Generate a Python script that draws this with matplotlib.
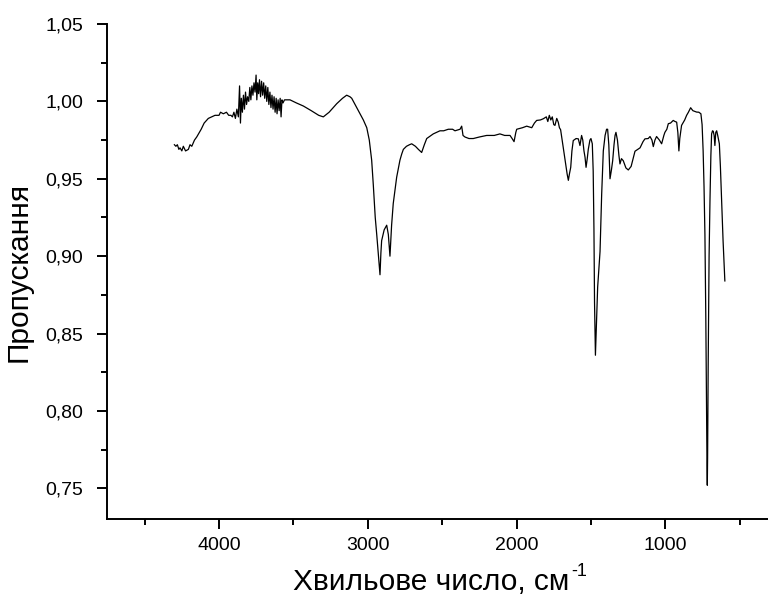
import matplotlib
matplotlib.use("Agg")
import matplotlib.pyplot as plt
from matplotlib.ticker import FixedLocator, FuncFormatter, MultipleLocator

plt.rcParams['font.family'] = ['Liberation Sans', 'DejaVu Sans']

# ---- data ----
wavenumber = [
    4300, 4290, 4280, 4270, 4262, 4250, 4240, 4225, 4206, 4195, 4183, 4165, 4150,
    4120, 4100, 4072, 4050, 4027, 4000, 3990, 3971, 3950, 3935,
    3920, 3910, 3900, 3890, 3880, 3870, 3862, 3856, 3850, 3843, 3836, 3829, 3822,
    3815, 3808, 3800, 3793, 3786, 3779, 3772, 3765, 3758, 3751, 3746, 3740, 3734,
    3728, 3721, 3714, 3707, 3700, 3693, 3686, 3679, 3672, 3665, 3658, 3651, 3644,
    3637, 3630, 3623, 3616, 3610, 3603, 3596, 3589, 3583, 3577, 3570, 3560,
    3523, 3480, 3433, 3380, 3330, 3299, 3260, 3209, 3170, 3142, 3120, 3108, 3080,
    3052, 3030, 3007, 2990, 2974, 2963, 2950, 2940, 2930, 2918, 2912, 2907, 2890,
    2873, 2862, 2851, 2840, 2829, 2806, 2784, 2772, 2761, 2740, 2720, 2705, 2680,
    2660, 2638, 2620, 2604, 2560, 2515, 2490, 2459, 2430, 2414, 2380, 2369, 2360,
    2347, 2320, 2291, 2250, 2201, 2150, 2112, 2080, 2044, 2030, 2017, 2005, 1999,
    1960, 1932, 1898, 1880, 1865, 1840, 1820, 1800, 1790, 1780, 1770, 1760, 1750,
    1742, 1730, 1720, 1712, 1704, 1695, 1686, 1670, 1660, 1652, 1645, 1636, 1628,
    1619, 1600, 1585, 1574, 1563, 1555, 1547, 1540, 1533, 1525, 1518, 1507, 1500,
    1491, 1485, 1480, 1476, 1470, 1465, 1455, 1439, 1428, 1417, 1405, 1395, 1388,
    1380, 1372, 1362, 1354, 1345, 1338, 1332, 1322, 1312, 1305, 1295, 1283, 1265,
    1249, 1230, 1204, 1170, 1150, 1137, 1115, 1103, 1090, 1081, 1070, 1059, 1040,
    1025, 1010, 1003, 990, 980, 965, 947, 935, 924, 916, 909, 903, 891, 870, 857,
    845, 830, 815, 800, 790, 775, 761, 753, 746, 740, 734, 728, 724, 720, 718, 716,
    712, 706, 700, 694, 689, 683, 678, 672, 667, 661, 655, 648, 637, 630, 622, 612,
    600,
]
transmittance = [
    0.972, 0.971, 0.972, 0.969, 0.970, 0.968, 0.971, 0.968, 0.969, 0.972, 0.971, 0.975, 0.977,
    0.982, 0.986, 0.989, 0.990, 0.991, 0.991, 0.993, 0.992, 0.993, 0.991,
    0.991, 0.990, 0.993, 0.989, 0.995, 0.990, 1.010, 0.986, 1.002, 0.993, 1.004, 0.995, 1.006,
    0.998, 1.003, 1.000, 1.009, 1.001, 1.010, 1.004, 1.012, 1.006, 1.017, 1.001, 1.012, 1.005,
    1.014, 1.003, 1.013, 1.004, 1.012, 1.002, 1.010, 1.000, 1.009, 0.998, 1.006, 0.996, 1.004,
    0.995, 1.003, 0.993, 1.002, 0.992, 1.001, 0.994, 1.002, 0.990, 1.001, 0.999, 1.001,
    1.001, 0.999, 0.997, 0.994, 0.991, 0.990, 0.993, 0.9985, 1.002, 1.004, 1.003, 1.002, 0.997,
    0.992, 0.988, 0.983, 0.975, 0.962, 0.946, 0.925, 0.914, 0.902, 0.888, 0.902, 0.910, 0.917,
    0.920, 0.914, 0.900, 0.920, 0.934, 0.951, 0.962, 0.966, 0.969, 0.971, 0.972, 0.9726, 0.971,
    0.969, 0.967, 0.972, 0.976, 0.979, 0.981, 0.981, 0.982, 0.982, 0.981, 0.982, 0.984, 0.978,
    0.977, 0.976, 0.976, 0.977, 0.978, 0.978, 0.979, 0.978, 0.978, 0.976, 0.974, 0.980, 0.982,
    0.983, 0.984, 0.983, 0.986, 0.9877, 0.988, 0.9888, 0.990, 0.987, 0.991, 0.988, 0.990, 0.985,
    0.9845, 0.989, 0.9866, 0.983, 0.9817, 0.976, 0.970, 0.9596, 0.953, 0.949, 0.953, 0.9574, 0.968,
    0.9747, 0.976, 0.9758, 0.9715, 0.978, 0.975, 0.968, 0.964, 0.9574, 0.963, 0.969, 0.975, 0.976,
    0.9726, 0.955, 0.918, 0.870, 0.836, 0.850, 0.880, 0.903, 0.940, 0.968, 0.978, 0.982, 0.982,
    0.972, 0.950, 0.956, 0.9617, 0.972, 0.978, 0.980, 0.975, 0.965, 0.9596, 0.963, 0.9617, 0.957,
    0.9557, 0.958, 0.9678, 0.970, 0.974, 0.9758, 0.976, 0.9773, 0.975, 0.9708, 0.975, 0.9773, 0.975,
    0.9726, 0.978, 0.980, 0.982, 0.9856, 0.986, 0.9877, 0.987, 0.9866, 0.980, 0.968, 0.976, 0.9845, 0.988, 0.991,
    0.993, 0.9959, 0.994, 0.9935, 0.9931, 0.993, 0.992, 0.985, 0.968, 0.945, 0.914, 0.860, 0.810, 0.765, 0.752, 0.770,
    0.830, 0.900, 0.936, 0.965, 0.979, 0.981, 0.9807, 0.978, 0.9715, 0.980, 0.981, 0.978, 0.9726, 0.958, 0.936, 0.910,
    0.884,
]
x_ticks = [4000, 3000, 2000, 1000]
y_ticks = [0.75, 0.80, 0.85, 0.90, 0.95, 1.00, 1.05]
x_label = 'Хвильове число, см'
x_label_sup = '-1'
y_label = 'Пропускання'

W, H = 768, 607
fig = plt.figure(figsize=(W / 100, H / 100), dpi=100)
left_px, bottom_px, top_px = 107.3, 519.3, 24.0
ax = fig.add_axes([left_px / W, (H - bottom_px) / H, 1 - left_px / W, (bottom_px - top_px) / H])

ax.plot(wavenumber, transmittance, color='black', lw=0.9)

ax.set_xlim(4751, 310)
ax.set_ylim(0.73, 1.05)

ax.spines['top'].set_visible(False)
ax.spines['right'].set_visible(False)
for s in ('left', 'bottom'):
    ax.spines[s].set_linewidth(1.4)

ax.xaxis.set_major_locator(FixedLocator(x_ticks))
ax.xaxis.set_minor_locator(MultipleLocator(500))
ax.yaxis.set_major_locator(FixedLocator(y_ticks))
ax.yaxis.set_minor_locator(MultipleLocator(0.025))
ax.xaxis.set_major_formatter(FuncFormatter(lambda v, p: f"{int(round(v))}"))
ax.yaxis.set_major_formatter(FuncFormatter(lambda v, p: f"{v:.2f}".replace('.', ',')))

ax.tick_params(axis='both', which='major', direction='out', length=7.5, width=1.4, labelsize=14)
ax.tick_params(axis='both', which='minor', direction='out', length=4, width=1.4)
ax.tick_params(axis='x', which='major', pad=5)
ax.tick_params(axis='y', which='major', pad=10)

ax.set_xlabel(x_label, fontsize=21.5)
ax.set_ylabel(y_label, fontsize=21.5)
ax.xaxis.set_label_coords(0.49, -0.098)
ax.yaxis.set_label_coords(-0.1125, 0.5)

# superscript "-1" after the x label
fig.canvas.draw()
bb = ax.xaxis.label.get_window_extent(fig.canvas.get_renderer())
fig.text((bb.x1 + 2) / W, (bb.y1 + 5) / H, x_label_sup, fontsize=13, ha='left', va='top')

fig.savefig('out.png', dpi=100)
